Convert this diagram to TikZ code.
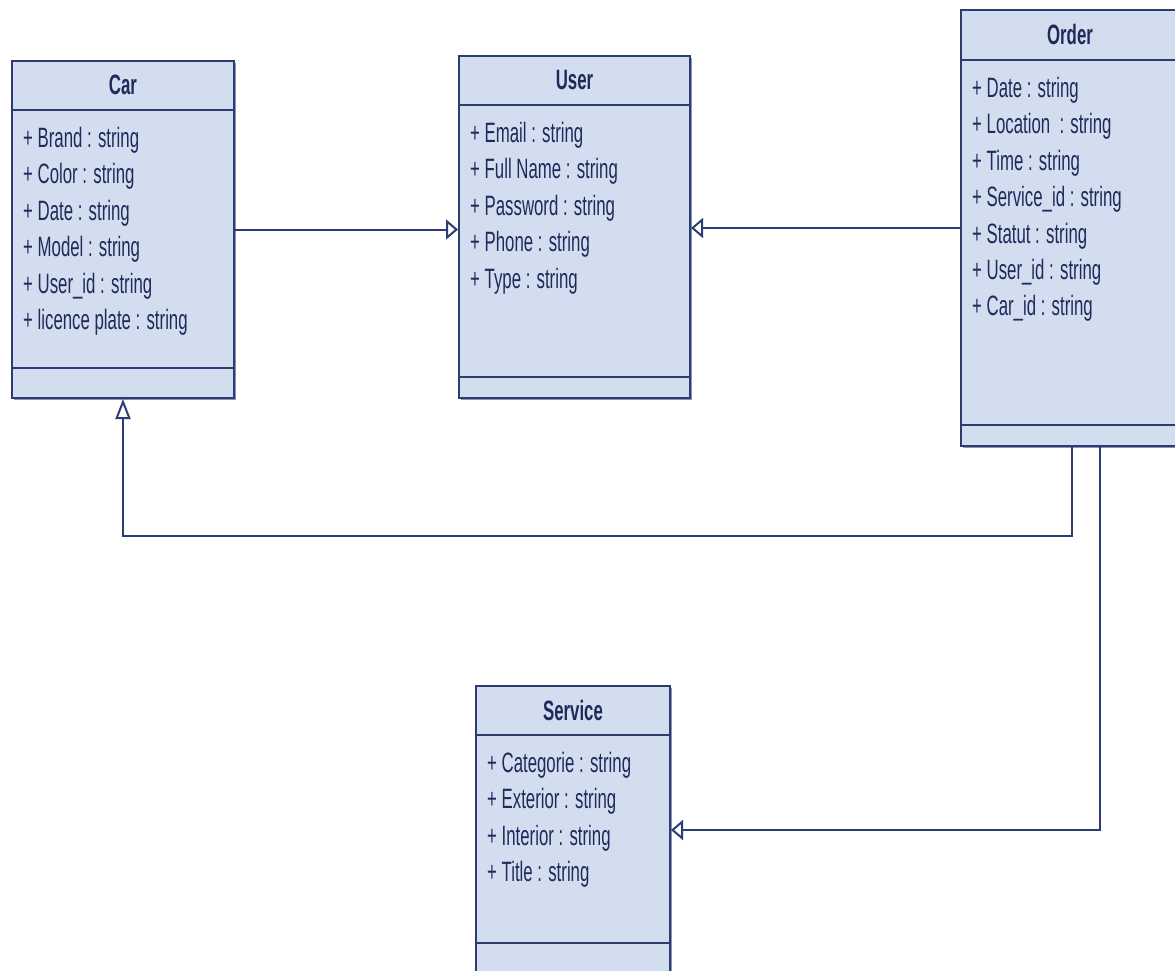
\documentclass[tikz,border=0pt]{standalone}
\usepackage{fontspec}
\usepackage{tikz}
\usetikzlibrary{arrows.meta,positioning,calc,shadows}
\newfontfamily\umlfont{Liberation Sans}[FakeStretch=0.6]
\definecolor{umlfill}{HTML}{D3DDF0}
\definecolor{umlline}{HTML}{2C3D73}
\definecolor{umltext}{HTML}{1E2B5A}
\tikzset{
  classbox/.style={draw=umlline,fill=umlfill,line width=2pt,anchor=north west,inner sep=0pt,
    drop shadow={shadow xshift=2pt,shadow yshift=-2pt,fill=umlline!55,opacity=1}},
  classsep/.style={draw=umlline,line width=2pt},
  classname/.style={font=\umlfont\bfseries\fontsize{28}{34}\selectfont,text=umltext,inner sep=0pt},
  attrs/.style={font=\umlfont\fontsize{28}{36.4}\selectfont,text=umltext,align=left,anchor=north west,inner sep=0pt},
  gen/.style={-{Triangle[open,length=12pt,width=20pt]},draw=umlline,line width=2pt},
  genup/.style={gen,-{Triangle[open,length=20pt,width=15pt]}}
}

\begin{document}
\begin{tikzpicture}[x=1pt,y=-1pt]
  \useasboundingbox[fill=white] (0,0) rectangle (1175,971);
  \clip (0,0) rectangle (1175,971);
  % Car
  \node[classbox,minimum width=222pt,minimum height=337pt] (car) at (11,60) {};
  \draw[classsep] ($(car.north west)+(0,50)$) -- ($(car.north east)+(0,50)$);
  \draw[classsep] ($(car.south west)+(0,-31)$) -- ($(car.south east)+(0,-31)$);
  \node[classname] (carname) at ($(car.north)+(0,25)$) {Car};
  \node[attrs] (carattrs) at ($(car.north west)+(12,67)$) {+ Brand : string\\+ Color : string\\+ Date : string\\+ Model : string\\+ User\_id : string\\+ licence plate : string};
  % User
  \node[classbox,minimum width=231pt,minimum height=342pt] (user) at (458,55) {};
  \draw[classsep] ($(user.north west)+(0,50)$) -- ($(user.north east)+(0,50)$);
  \draw[classsep] ($(user.south west)+(0,-22)$) -- ($(user.south east)+(0,-22)$);
  \node[classname] (username) at ($(user.north)+(0,25)$) {User};
  \node[attrs] (userattrs) at ($(user.north west)+(12,67)$) {+ Email : string\\+ Full Name : string\\+ Password : string\\+ Phone : string\\+ Type : string};
  % Order
  \node[classbox,minimum width=218pt,minimum height=436pt] (order) at (960,9) {};
  \draw[classsep] ($(order.north west)+(0,51)$) -- ($(order.north east)+(0,51)$);
  \draw[classsep] ($(order.south west)+(0,-22)$) -- ($(order.south east)+(0,-22)$);
  \node[classname] (ordername) at ($(order.north)+(0,25)$) {Order};
  \node[attrs] (orderattrs) at ($(order.north west)+(12,68)$) {+ Date : string\\+ Location\ \ : string\\+ Time : string\\+ Service\_id : string\\+ Statut : string\\+ User\_id : string\\+ Car\_id : string};
  % Service
  \node[classbox,minimum width=194pt,minimum height=288pt] (service) at (475,685) {};
  \draw[classsep] ($(service.north west)+(0,50)$) -- ($(service.north east)+(0,50)$);
  \draw[classsep] ($(service.north west)+(0,258)$) -- ($(service.north east)+(0,258)$);
  \node[classname] (servicename) at ($(service.north)+(0,25)$) {Service};
  \node[attrs] (serviceattrs) at ($(service.north west)+(12,67)$) {+ Categorie : string\\+ Exterior : string\\+ Interior : string\\+ Title : string};
  % links
  \coordinate (carlink) at ([xshift=2pt]order.south);
  \coordinate (servicelink) at ([xshift=30pt]order.south);
  \draw[gen] (car.east) -- (car.east -| user.west);
  \draw[gen] (order.west) -- (order.west -| user.east);
  \draw[genup] (carlink) -- ++(0,89) -| (car.south);
  \draw[gen] (servicelink) |- (service.east);
\end{tikzpicture}
\end{document}
